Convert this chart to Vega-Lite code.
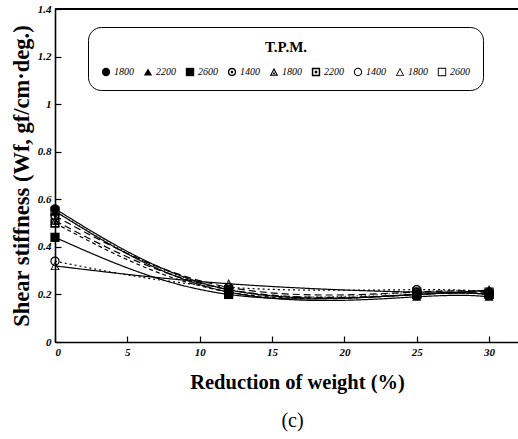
{
  "$schema": "https://vega.github.io/schema/vega-lite/v6.json",
  "width": 463,
  "height": 333,
  "autosize": "none",
  "padding": {"left": 55, "top": 9, "right": 0, "bottom": 97},
  "background": "white",
  "title": {
    "text": "(c)",
    "orient": "bottom",
    "anchor": "middle",
    "dx": 6,
    "offset": 18,
    "font": "Liberation Serif",
    "fontSize": 20,
    "fontWeight": "normal",
    "color": "black"
  },
  "config": {
    "view": {"stroke": null},
    "axis": {
      "domainColor": "black",
      "domainWidth": 1.6,
      "tickColor": "black",
      "tickWidth": 1.2,
      "tickSize": -6,
      "grid": false
    }
  },
  "data": {
    "values": [
      {"s": "f1800", "x": 0, "y": 0.56}, {"s": "f1800", "x": 12, "y": 0.22}, {"s": "f1800", "x": 25, "y": 0.2}, {"s": "f1800", "x": 30, "y": 0.2},
      {"s": "f2200", "x": 0, "y": 0.55}, {"s": "f2200", "x": 12, "y": 0.21}, {"s": "f2200", "x": 25, "y": 0.19}, {"s": "f2200", "x": 30, "y": 0.19},
      {"s": "f2600", "x": 0, "y": 0.44}, {"s": "f2600", "x": 12, "y": 0.2}, {"s": "f2600", "x": 25, "y": 0.2}, {"s": "f2600", "x": 30, "y": 0.2},
      {"s": "h1400", "x": 0, "y": 0.53}, {"s": "h1400", "x": 12, "y": 0.23}, {"s": "h1400", "x": 25, "y": 0.21}, {"s": "h1400", "x": 30, "y": 0.21},
      {"s": "h1800", "x": 0, "y": 0.51}, {"s": "h1800", "x": 12, "y": 0.22}, {"s": "h1800", "x": 25, "y": 0.2}, {"s": "h1800", "x": 30, "y": 0.21},
      {"s": "h2200", "x": 0, "y": 0.5}, {"s": "h2200", "x": 12, "y": 0.21}, {"s": "h2200", "x": 25, "y": 0.2}, {"s": "h2200", "x": 30, "y": 0.2},
      {"s": "o1400", "x": 0, "y": 0.34}, {"s": "o1400", "x": 12, "y": 0.23}, {"s": "o1400", "x": 25, "y": 0.22}, {"s": "o1400", "x": 30, "y": 0.21},
      {"s": "o1800", "x": 0, "y": 0.32}, {"s": "o1800", "x": 12, "y": 0.245}, {"s": "o1800", "x": 25, "y": 0.21}, {"s": "o1800", "x": 30, "y": 0.22},
      {"s": "o2600", "x": 0, "y": 0.55}, {"s": "o2600", "x": 12, "y": 0.22}, {"s": "o2600", "x": 25, "y": 0.21}, {"s": "o2600", "x": 30, "y": 0.21}
    ]
  },
  "encoding": {
    "x": {
      "field": "x",
      "type": "quantitative",
      "scale": {"domain": [0, 32], "nice": false, "zero": false},
      "axis": {
        "values": [0, 5, 10, 15, 20, 25, 30],
        "title": "Reduction of weight (%)",
        "titleFont": "Liberation Serif",
        "titleFontWeight": "bold",
        "titleColor": "black",
        "titleFontSize": 20.5,
        "titlePadding": 15,
        "titleX": 242,
        "labelFont": "Liberation Serif",
        "labelFontStyle": "italic",
        "labelFontWeight": "bold",
        "labelFontSize": 11,
        "labelColor": "black",
        "labelPadding": 10
      }
    },
    "y": {
      "field": "y",
      "type": "quantitative",
      "scale": {"domain": [0, 1.4], "nice": false},
      "axis": {
        "values": [0, 0.2, 0.4, 0.6, 0.8, 1, 1.2, 1.4],
        "format": ".1~f",
        "title": "Shear stiffness (Wf, gf/cm·deg.)",
        "titleFont": "Liberation Serif",
        "titleFontWeight": "bold",
        "titleColor": "black",
        "titleFontSize": 22.5,
        "titlePadding": 4,
        "labelFont": "Liberation Serif",
        "labelFontStyle": "italic",
        "labelFontWeight": "bold",
        "labelFontSize": 11,
        "labelColor": "black",
        "labelPadding": 10
      }
    }
  },
  "layer": [
    {
      "mark": {"type": "rule", "color": "black", "strokeWidth": 1.6},
      "encoding": {"y": {"datum": 1.4, "type": "quantitative"}, "x": null}
    },
    {
      "mark": {"type": "line", "color": "black", "strokeWidth": 1.2, "interpolate": "natural"},
      "encoding": {
        "detail": {"field": "s"},
        "strokeDash": {
          "field": "s",
          "type": "nominal",
          "legend": null,
          "scale": {
            "range": [[1, 0], [1, 0], [1, 0], [7, 4], [7, 4], [4, 3], [2, 3], [1, 0], [1, 3]]
          }
        }
      }
    },
    {
      "mark": {"type": "point", "filled": true, "color": "black", "strokeWidth": 0, "size": 85, "opacity": 1},
      "encoding": {
        "shape": {
          "field": "s",
          "type": "nominal",
          "title": "T.P.M.",
          "legend": {
            "orient": "none",
            "legendX": 33,
            "legendY": 18,
            "direction": "horizontal",
            "columns": 9,
            "labelExpr": "slice(datum.label, 1)",
            "strokeColor": "black",
            "cornerRadius": 13,
            "padding": 13,
            "titleFont": "Liberation Serif",
            "titleFontWeight": "bold",
            "titleFontSize": 15,
            "titleColor": "black",
            "titleAnchor": "middle",
            "titlePadding": 12,
            "labelFont": "Liberation Serif",
            "labelFontStyle": "italic",
            "labelFontSize": 10,
            "labelColor": "black",
            "symbolSize": 70,
            "symbolFillColor": "black",
            "symbolOpacity": 1,
            "symbolStrokeWidth": 0,
            "columnPadding": 9,
            "labelOffset": 3,
            "encode": {
              "legend": {
                "strokeWidth": {"value": 1.4}
              }
            }
          },
          "scale": {
            "domain": ["f1800", "f2200", "f2600", "h1400", "h1800", "h2200", "o1400", "o1800", "o2600"],
            "range": [
              "circle", "triangle-up", "square",
              "M0,-1A1,1,0,1,1,0,1A1,1,0,1,1,0,-1ZM0,-0.68A0.68,0.68,0,1,0,0,0.68A0.68,0.68,0,1,0,0,-0.68ZM0,-0.3A0.3,0.3,0,1,1,0,0.3A0.3,0.3,0,1,1,0,-0.3Z",
              "M0,-1L1,0.9L-1,0.9ZM0,-0.43L-0.55,0.615L0.55,0.615ZM-0.2,0.1L0.2,0.1L0.2,0.45L-0.2,0.45Z",
              "M-1,-1L1,-1L1,1L-1,1ZM-0.65,-0.65L-0.65,0.65L0.65,0.65L0.65,-0.65ZM-0.3,-0.3L0.3,-0.3L0.3,0.3L-0.3,0.3Z",
              "M0,-1A1,1,0,1,1,0,1A1,1,0,1,1,0,-1ZM0,-0.76A0.76,0.76,0,1,0,0,0.76A0.76,0.76,0,1,0,0,-0.76Z",
              "M0,-1L1,0.9L-1,0.9ZM0,-0.6L-0.68,0.72L0.68,0.72Z",
              "M-1,-1L1,-1L1,1L-1,1ZM-0.78,-0.78L-0.78,0.78L0.78,0.78L0.78,-0.78Z"
            ]
          }
        }
      }
    }
  ]
}
